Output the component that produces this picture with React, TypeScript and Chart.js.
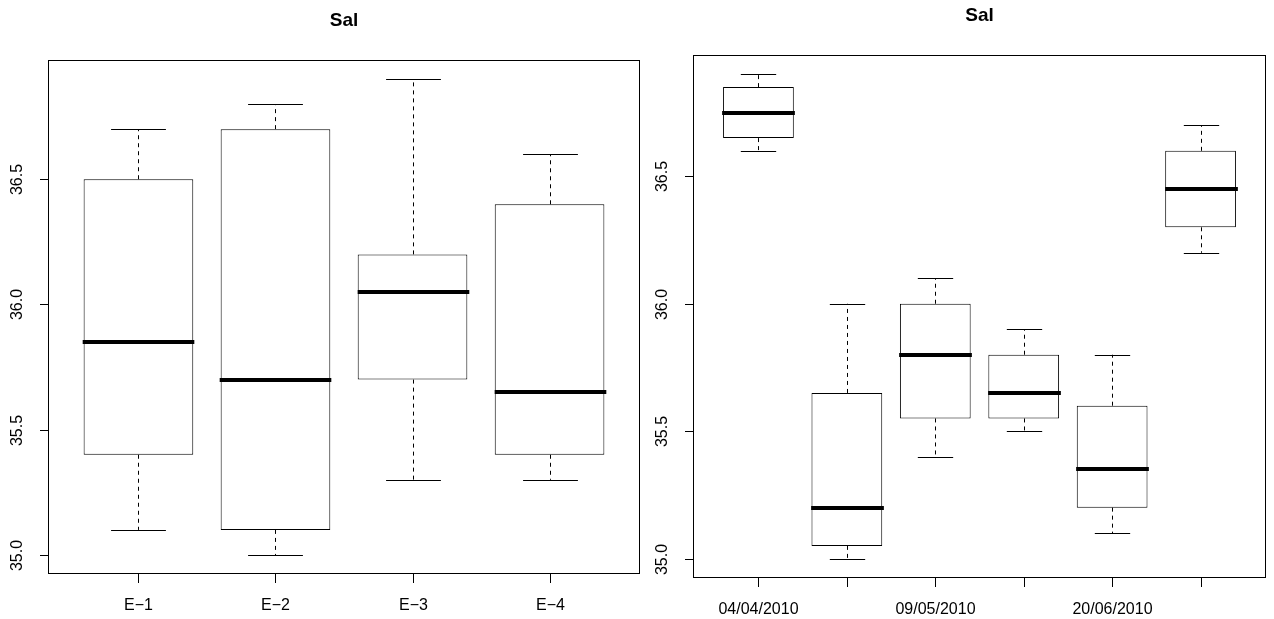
import React, { useEffect, useRef } from "react";
import { Chart, registerables } from "chart.js";

Chart.register(...registerables);

// ---- Left panel data (by station) ----
const leftCategories = ["E\u22121", "E\u22122", "E\u22123", "E\u22124"];
const leftLower = [35.1, 35.0, 35.3, 35.3];
const leftQ1 = [35.4, 35.1, 35.7, 35.4];
const leftMedian = [35.85, 35.7, 36.05, 35.65];
const leftQ3 = [36.5, 36.7, 36.2, 36.4];
const leftUpper = [36.7, 36.8, 36.9, 36.6];

// ---- Right panel data (by date; hidden labels are empty) ----
const rightCategories = ["04/04/2010", "", "09/05/2010", "", "20/06/2010", ""];
const rightLower = [36.6, 35.0, 35.4, 35.5, 35.1, 36.2];
const rightQ1 = [36.65, 35.05, 35.55, 35.55, 35.2, 36.3];
const rightMedian = [36.75, 35.2, 35.8, 35.65, 35.35, 36.45];
const rightQ3 = [36.85, 35.65, 36.0, 35.8, 35.6, 36.6];
const rightUpper = [36.9, 36.0, 36.1, 35.9, 35.8, 36.7];

const yTickValues = [35.0, 35.5, 36.0, 36.5];
const panelTitle = "Sal";

const FONT = "'Liberation Sans', Arial, Helvetica, sans-serif";

type Panel = {
  categories: string[];
  lower: number[];
  q1: number[];
  median: number[];
  q3: number[];
  upper: number[];
  left: number;
  width: number;
  padding: { left: number; right: number; top: number; bottom: number };
  titleY: number;
};

function BoxPanel(p: Panel) {
  const ref = useRef<HTMLCanvasElement | null>(null);
  useEffect(() => {
    if (!ref.current) return;
    const n = p.categories.length;
    const lo = Math.min(...p.lower);
    const hi = Math.max(...p.upper);
    const yPad = (hi - lo) * 0.04;
    const xPad = n * 0.04;

    const boxPlugin = {
      id: "rbox",
      afterDatasetsDraw(chart: any) {
        const { ctx, chartArea: a } = chart;
        const x = chart.scales.x;
        const y = chart.scales.y;
        const step = x.getPixelForValue(2) - x.getPixelForValue(1);
        const half = (step * 0.8) / 2;
        ctx.save();
        ctx.strokeStyle = "#000";
        ctx.fillStyle = "#000";
        for (let i = 0; i < n; i++) {
          const cx = Math.round(x.getPixelForValue(i + 1)) + 0.5;
          const yU = y.getPixelForValue(p.upper[i]);
          const yL = y.getPixelForValue(p.lower[i]);
          const y3 = y.getPixelForValue(p.q3[i]);
          const y1 = y.getPixelForValue(p.q1[i]);
          const yM = y.getPixelForValue(p.median[i]);
          ctx.lineWidth = 1;
          ctx.setLineDash([4, 4]);
          ctx.beginPath();
          ctx.moveTo(cx, y3);
          ctx.lineTo(cx, yU);
          ctx.moveTo(cx, y1);
          ctx.lineTo(cx, yL);
          ctx.stroke();
          ctx.setLineDash([]);
          ctx.beginPath();
          const ru = Math.round(yU) + 0.5;
          const rl = Math.round(yL) + 0.5;
          ctx.moveTo(cx - half / 2, ru);
          ctx.lineTo(cx + half / 2, ru);
          ctx.moveTo(cx - half / 2, rl);
          ctx.lineTo(cx + half / 2, rl);
          ctx.stroke();
          ctx.lineWidth = 4;
          ctx.beginPath();
          ctx.moveTo(cx - half - 1, Math.round(yM));
          ctx.lineTo(cx + half + 1, Math.round(yM));
          ctx.stroke();
        }
        // frame
        ctx.lineWidth = 1;
        ctx.strokeRect(
          Math.round(a.left) + 0.5,
          Math.round(a.top) + 0.5,
          Math.round(a.right - a.left) - 1,
          Math.round(a.bottom - a.top) - 1
        );
        // y ticks and labels
        ctx.font = `16px ${FONT}`;
        ctx.textAlign = "center";
        ctx.textBaseline = "middle";
        for (const t of yTickValues) {
          const py = Math.round(y.getPixelForValue(t)) + 0.5;
          ctx.beginPath();
          ctx.moveTo(a.left - 8, py);
          ctx.lineTo(a.left, py);
          ctx.stroke();
          ctx.save();
          ctx.translate(a.left - 30, py);
          ctx.rotate(-Math.PI / 2);
          ctx.fillText(t.toFixed(1), 0, 0);
          ctx.restore();
        }
        // x ticks and labels
        for (let i = 0; i < n; i++) {
          const px = Math.round(x.getPixelForValue(i + 1)) + 0.5;
          ctx.beginPath();
          ctx.moveTo(px, a.bottom);
          ctx.lineTo(px, a.bottom + 9);
          ctx.stroke();
          if (p.categories[i]) ctx.fillText(p.categories[i], px, a.bottom + 32);
        }
        // title
        ctx.font = `bold 19px ${FONT}`;
        ctx.fillText(panelTitle, (a.left + a.right) / 2, p.titleY);
        ctx.restore();
      },
    };

    const chart = new Chart(ref.current, {
      type: "bar",
      data: {
        datasets: [
          {
            data: p.q1.map((v, i) => ({ x: i + 1, y: [v, p.q3[i]] })) as any,
            backgroundColor: "#ffffff",
            borderColor: "#000000",
            borderWidth: 1,
            borderSkipped: false,
            barPercentage: 0.8,
            categoryPercentage: 1,
          },
        ],
      },
      options: {
        responsive: false,
        animation: false,
        events: [],
        layout: { padding: p.padding },
        plugins: { legend: { display: false }, tooltip: { enabled: false }, title: { display: false } },
        scales: {
          x: {
            type: "linear",
            display: false,
            offset: false,
            min: 0.5 - xPad,
            max: n + 0.5 + xPad,
            afterBuildTicks: (s: any) => {
              s.ticks = p.categories.map((_, i) => ({ value: i + 1 }));
            },
          },
          y: { type: "linear", display: false, min: lo - yPad, max: hi + yPad },
        },
      },
      plugins: [boxPlugin],
    });
    return () => chart.destroy();
  }, []);
  return (
    <canvas
      ref={ref}
      width={p.width}
      height={619}
      style={{ position: "absolute", left: p.left, top: 0, width: p.width, height: 619 }}
    />
  );
}

export default function App() {
  return (
    <div style={{ position: "fixed", left: 0, top: 0, width: 1274, height: 619, background: "#fff" }}>
      <BoxPanel
        categories={leftCategories}
        lower={leftLower}
        q1={leftQ1}
        median={leftMedian}
        q3={leftQ3}
        upper={leftUpper}
        left={0}
        width={645}
        padding={{ left: 48, right: 5, top: 60, bottom: 45 }}
        titleY={21}
      />
      <BoxPanel
        categories={rightCategories}
        lower={rightLower}
        q1={rightQ1}
        median={rightMedian}
        q3={rightQ3}
        upper={rightUpper}
        left={645}
        width={629}
        padding={{ left: 48, right: 8, top: 55, bottom: 41 }}
        titleY={16}
      />
    </div>
  );
}
